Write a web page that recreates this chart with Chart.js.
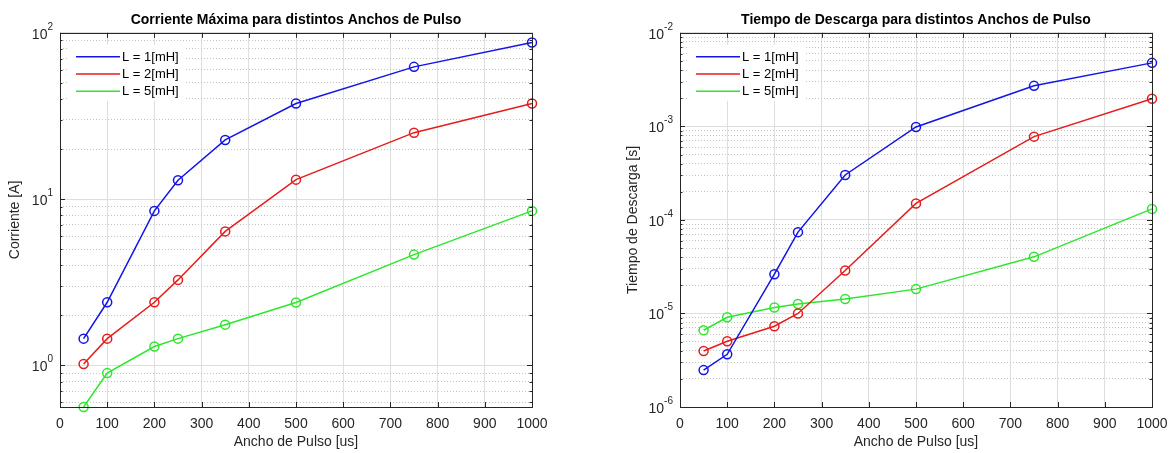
<!DOCTYPE html>
<html>
<head>
<meta charset="utf-8">
<script src="https://cdn.jsdelivr.net/npm/chart.js@4.4.1/dist/chart.umd.min.js"></script>
<style>
  html, body { margin: 0; padding: 0; background: #fff; }
  #wrap { position: relative; width: 1172px; height: 453px; }
  .box { position: absolute; top: 0; height: 453px; }
</style>
</head>
<body>
<div id="wrap">
  <div class="box" style="left:0;width:590px"><canvas id="chartCorriente"></canvas></div>
  <div class="box" style="left:590px;width:582px"><canvas id="chartTiempo"></canvas></div>
</div>
<script>
// anchos de pulso [us]
const pulseWidths = [50, 100, 200, 250, 350, 500, 750, 1000];
const seriesLabels = ["L = 1[mH]", "L = 2[mH]", "L = 5[mH]"];
const seriesColors = ["#1414e6", "#e61c1c", "#2ee62e"];

// corriente maxima [A]
const corrienteL1 = [1.45, 2.4, 8.5, 13.0, 22.7, 37.6, 62.4, 87.5];
const corrienteL2 = [1.02, 1.45, 2.4, 3.27, 6.4, 13.1, 25.1, 37.6];
const corrienteL5 = [0.563, 0.90, 1.30, 1.45, 1.76, 2.39, 4.64, 8.5];

// tiempo de descarga [s]
const tiempoL1 = [2.48e-6, 3.66e-6, 2.63e-5, 7.4e-5, 3.02e-4, 9.86e-4, 2.71e-3, 4.77e-3];
const tiempoL2 = [3.97e-6, 5.04e-6, 7.3e-6, 1.0e-5, 2.88e-5, 1.5e-4, 7.76e-4, 1.97e-3];
const tiempoL5 = [6.61e-6, 9.1e-6, 1.16e-5, 1.26e-5, 1.43e-5, 1.82e-5, 4.03e-5, 1.31e-4];

const xTicks = [0, 100, 200, 300, 400, 500, 600, 700, 800, 900, 1000];

const FONT = "'Liberation Sans', Arial, Helvetica, sans-serif";
const AXIS_COLOR = "#262626";

function isDecade(v) {
    const e = Math.log10(v);
    return Math.abs(e - Math.round(e)) < 1e-9;
}

// ticks 1..9 x 10^n inside [min, max]
function logTicks(min, max) {
    const out = [];
    for (let e = Math.floor(Math.log10(min)); e <= Math.ceil(Math.log10(max)); e++) {
        for (let s = 1; s <= 9; s++) {
            const v = parseFloat((s * Math.pow(10, e)).toPrecision(6));
            if (v >= min * 0.9999 && v <= max * 1.0001) out.push({ value: v });
        }
    }
    return out;
}

function makeDatasets(values) {
    return values.map((vals, i) => ({
        label: seriesLabels[i],
        data: pulseWidths.map((x, j) => ({ x: x, y: vals[j] })),
        borderColor: seriesColors[i],
        backgroundColor: "rgba(0,0,0,0)",
        borderWidth: 1.5,
        pointRadius: 4.5,
        pointBorderWidth: 1.5,
        pointBackgroundColor: "rgba(0,0,0,0)",
        pointBorderColor: seriesColors[i],
        tension: 0,
        clip: false
    }));
}

// white legend box inside the axes, like matlab
const legendPlugin = {
    id: "insideLegend",
    afterDatasetsDraw(chart) {
        const ctx = chart.ctx;
        const a = chart.chartArea;
        ctx.save();
        ctx.fillStyle = "#fff";
        ctx.fillRect(a.left + 9, a.top + 12, 116, 56);
        ctx.font = "13px " + FONT;
        ctx.textBaseline = "middle";
        chart.data.datasets.forEach((ds, i) => {
            const y = a.top + 24 + i * 17.2;
            ctx.strokeStyle = ds.borderColor;
            ctx.lineWidth = 1.5;
            ctx.beginPath();
            ctx.moveTo(a.left + 16, y);
            ctx.lineTo(a.left + 60, y);
            ctx.stroke();
            ctx.fillStyle = "#000";
            ctx.fillText(ds.label, a.left + 62, y + 0.5);
        });
        ctx.restore();
    }
};

// box around the axes with inward ticks, plus 10^n labels with a real superscript
const framePlugin = {
    id: "frame",
    afterDraw(chart) {
        const ctx = chart.ctx;
        const a = chart.chartArea;
        const xs = chart.scales.x, ys = chart.scales.y;
        ctx.save();
        ctx.strokeStyle = AXIS_COLOR;
        ctx.lineWidth = 1;
        ctx.beginPath();
        xs.ticks.forEach(t => {
            const px = Math.round(xs.getPixelForValue(t.value)) + 0.5;
            ctx.moveTo(px, a.bottom); ctx.lineTo(px, a.bottom - 5);
            ctx.moveTo(px, a.top); ctx.lineTo(px, a.top + 5);
        });
        ys.ticks.forEach(t => {
            const py = Math.round(ys.getPixelForValue(t.value)) + 0.5;
            const len = isDecade(t.value) ? 5 : 2.5;
            ctx.moveTo(a.left, py); ctx.lineTo(a.left + len, py);
            ctx.moveTo(a.right, py); ctx.lineTo(a.right - len, py);
        });
        ctx.stroke();
        ctx.strokeRect(Math.round(a.left) + 0.5, Math.round(a.top) + 0.5,
            Math.round(a.right - a.left), Math.round(a.bottom - a.top));

        ctx.fillStyle = AXIS_COLOR;
        ctx.textBaseline = "middle";
        ys.ticks.forEach(t => {
            if (!isDecade(t.value)) return;
            const py = ys.getPixelForValue(t.value);
            const exp = String(Math.round(Math.log10(t.value)));
            ctx.font = "10px " + FONT;
            const ew = ctx.measureText(exp).width;
            const xr = a.left - 7;
            ctx.textAlign = "left";
            ctx.fillText(exp, xr - ew, py - 6);
            ctx.font = "14px " + FONT;
            ctx.textAlign = "right";
            ctx.fillText("10", xr - ew, py + 2);
        });
        ctx.restore();
    }
};

function makeChart(id, title, yTitle, values, yMin, yMax, yWidth, padRight, yTitlePad) {
    return new Chart(id, {
        type: "line",
        data: { datasets: makeDatasets(values) },
        options: {
            responsive: true,
            maintainAspectRatio: false,
            animation: false,
            layout: { padding: { left: 0, right: padRight, top: 0, bottom: 0 } },
            plugins: {
                legend: { display: false },
                tooltip: { enabled: false },
                title: {
                    display: true,
                    text: title,
                    fullSize: false,
                    color: "#000",
                    font: { family: FONT, size: 14, weight: "bold" },
                    padding: { top: 12, bottom: 4 }
                }
            },
            scales: {
                x: {
                    type: "linear",
                    min: 0,
                    max: 1000,
                    afterBuildTicks: s => { s.ticks = xTicks.map(v => ({ value: v })); },
                    afterFit: s => { s.height = 46; s.paddingRight = 0; s.paddingLeft = 0; },
                    grid: { color: "#dedede", lineWidth: 1, drawTicks: false },
                    border: { display: false },
                    ticks: {
                        color: AXIS_COLOR,
                        padding: 9,
                        maxRotation: 0,
                        font: { family: FONT, size: 14 },
                        callback: v => String(v)
                    },
                    title: {
                        display: true,
                        text: "Ancho de Pulso [us]",
                        color: AXIS_COLOR,
                        font: { family: FONT, size: 14 },
                        padding: { top: 0, bottom: 2 }
                    }
                },
                y: {
                    type: "logarithmic",
                    min: yMin,
                    max: yMax,
                    afterBuildTicks: s => { s.ticks = logTicks(yMin, yMax); },
                    afterFit: s => { s.width = yWidth; s.paddingTop = 0; s.paddingBottom = 0; },
                    grid: {
                        drawTicks: false,
                        color: c => (c.tick && isDecade(c.tick.value)) ? "#dedede" : "#c4c4c4",
                        lineWidth: 1
                    },
                    border: {
                        display: false,
                        dash: c => (c.tick && !isDecade(c.tick.value)) ? [1, 2] : []
                    },
                    ticks: { display: false, autoSkip: false },
                    title: {
                        display: true,
                        text: yTitle,
                        color: AXIS_COLOR,
                        font: { family: FONT, size: 14 },
                        padding: { top: yTitlePad, bottom: 0 }
                    }
                }
            }
        },
        plugins: [legendPlugin, framePlugin]
    });
}

makeChart("chartCorriente", "Corriente Máxima para distintos Anchos de Pulso", "Corriente [A]",
    [corrienteL1, corrienteL2, corrienteL5], 0.563, 100, 60, 58, 6.6);
makeChart("chartTiempo", "Tiempo de Descarga para distintos Anchos de Pulso", "Tiempo de Descarga [s]",
    [tiempoL1, tiempoL2, tiempoL5], 1e-6, 1e-2, 90, 20, 34.6);
</script>
</body>
</html>
